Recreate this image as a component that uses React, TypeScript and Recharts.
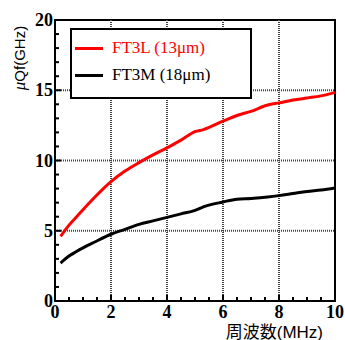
import React from 'react';
import { LineChart, Line, XAxis, YAxis, ReferenceLine, ReferenceArea, Legend } from 'recharts';

const freq = [0.2, 0.5, 0.75, 1.0, 1.4, 2.0, 2.5, 3.0, 3.5, 4.0, 4.5, 5.0, 5.3, 6.0, 6.5, 7.0, 7.6, 8.0, 8.5, 9.0, 9.5, 10.0];
const ft3l = [4.6, 5.4, 5.95, 6.5, 7.35, 8.5, 9.25, 9.85, 10.4, 10.9, 11.45, 12.05, 12.2, 12.8, 13.2, 13.5, 13.95, 14.1, 14.3, 14.45, 14.6, 14.85];
const ft3m = [2.7, 3.2, 3.5, 3.78, 4.18, 4.75, 5.1, 5.45, 5.7, 5.95, 6.2, 6.45, 6.7, 7.05, 7.25, 7.3, 7.4, 7.5, 7.65, 7.8, 7.9, 8.05];

const seriesNames = ['FT3L (13\u03bcm)', 'FT3M (18\u03bcm)'];
const seriesColors = ['#ff0000', '#000000'];

const xTicks = Array.from({ length: 21 }, (_, i) => i * 0.5);
const yTicks = Array.from({ length: 21 }, (_, i) => i);
const xGrid = [2, 4, 6, 8];
const yGrid = [5, 10, 15];

const data = freq.map((f, i) => ({ f, a: ft3l[i], b: ft3m[i] }));

const tickFont = { fontFamily: '"Liberation Serif", "Times New Roman", serif', fontWeight: 700, fontSize: 18 };

const XTick = (props: any) => {
  const { x, y, payload } = props;
  const v = payload.value;
  const major = Math.abs(v - Math.round(v / 2) * 2) < 1e-6;
  return (
    <g>
      <line x1={x} x2={x} y1={y} y2={y - (major ? 6 : 4)} stroke="#000" strokeWidth={2} />
      {major && (
        <text x={x} y={y + 17} textAnchor="middle" fill="#000" style={tickFont}>
          {v}
        </text>
      )}
    </g>
  );
};

const YTick = (props: any) => {
  const { x, y, payload } = props;
  const v = payload.value;
  const major = v % 5 === 0;
  return (
    <g>
      <line x1={x} x2={x + (major ? 6 : 4)} y1={y} y2={y} stroke="#000" strokeWidth={2} />
      {major && (
        <text x={x - 2} y={y + 6} textAnchor="end" fill="#000" style={tickFont}>
          {v}
        </text>
      )}
    </g>
  );
};

const LegendBox = () => (
  <div
    style={{
      width: 178,
      height: 67,
      border: '2px solid #000',
      background: '#fff',
      position: 'relative',
      fontFamily: '"Liberation Serif", "Times New Roman", serif',
      fontSize: 17,
    }}
  >
    {seriesNames.map((name, i) => (
      <div key={name} style={{ position: 'absolute', left: 3, top: 8 + i * 27, height: 20, display: 'flex', alignItems: 'center' }}>
        <div style={{ width: 28, height: 3, background: seriesColors[i] }} />
        <span style={{ marginLeft: 9, color: seriesColors[i], whiteSpace: 'nowrap' }}>{name}</span>
      </div>
    ))}
  </div>
);

const YLabel = () => (
  <text x={25} y={58} transform="rotate(-90, 25, 58)" textAnchor="middle" fill="#000">
    <tspan style={{ fontFamily: '"Liberation Serif", serif', fontStyle: 'italic', fontSize: 17 }}>{'\u03bc'}</tspan>
    <tspan style={{ fontFamily: '"Liberation Sans", Arial, sans-serif', fontSize: 15 }}>Qf(GHz)</tspan>
  </text>
);

const XLabel = () => (
  <text
    x={323}
    y={338}
    textAnchor="end"
    fill="#000"
    style={{ fontFamily: '"Liberation Sans", "Noto Sans CJK JP", sans-serif', fontSize: 17 }}
  >
    周波数(MHz)
  </text>
);

export default function App() {
  return (
    <div style={{ position: 'absolute', left: 0, top: 0, background: '#fff' }}>
      <LineChart width={345} height={340} data={data} margin={{ top: 20, right: 10, bottom: 0, left: 0 }}>
        <ReferenceArea x1={0} x2={10} y1={0} y2={20} fill="none" stroke="#000" strokeWidth={2} ifOverflow="extendDomain" />
        {xGrid.map((g) => (
          <ReferenceLine key={'x' + g} x={g} stroke="#444" strokeWidth={2} strokeDasharray="1 1" />
        ))}
        {yGrid.map((g) => (
          <ReferenceLine key={'y' + g} y={g} stroke="#444" strokeWidth={2} strokeDasharray="1 1" />
        ))}
        <XAxis
          dataKey="f"
          type="number"
          domain={[0, 10]}
          ticks={xTicks}
          interval={0}
          height={39}
          tickSize={0}
          tickMargin={0}
          tick={<XTick />}
          axisLine={{ stroke: '#000', strokeWidth: 2 }}
          label={<XLabel />}
        />
        <YAxis
          type="number"
          domain={[0, 20]}
          ticks={yTicks}
          interval={0}
          width={55}
          tickSize={0}
          tickMargin={0}
          tick={<YTick />}
          axisLine={{ stroke: '#000', strokeWidth: 2 }}
          label={<YLabel />}
        />
        <Legend
          verticalAlign="middle"
          align="center"
          layout="horizontal"
          content={<LegendBox />}
          wrapperStyle={{ position: 'absolute', left: 70, top: 28, width: 182, height: 71 }}
        />
        <Line dataKey="a" name={seriesNames[0]} stroke={seriesColors[0]} strokeWidth={3} dot={false} type="monotone" isAnimationActive={false} />
        <Line dataKey="b" name={seriesNames[1]} stroke={seriesColors[1]} strokeWidth={3} dot={false} type="monotone" isAnimationActive={false} />
      </LineChart>
    </div>
  );
}
